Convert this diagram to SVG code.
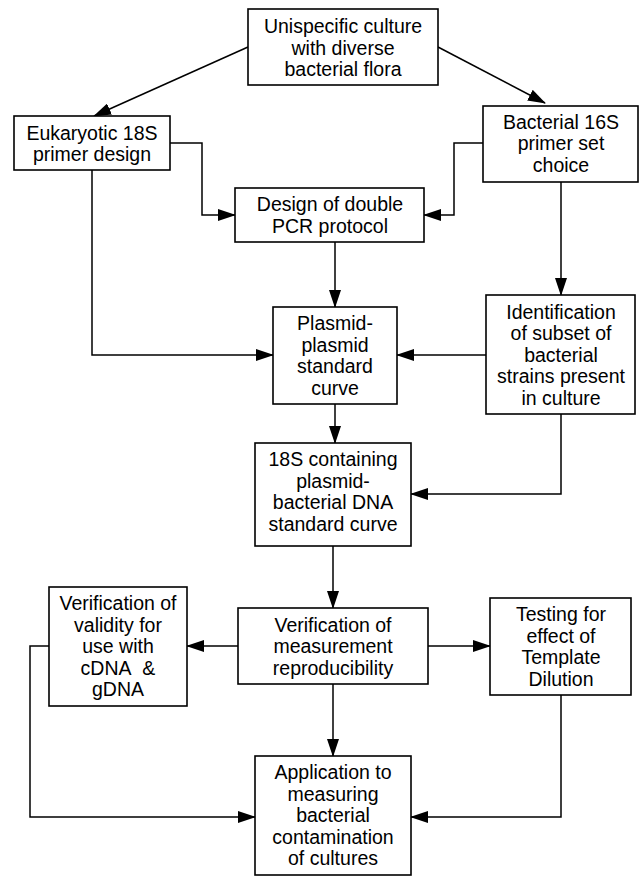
<svg xmlns="http://www.w3.org/2000/svg" width="640" height="877" viewBox="0 0 640 877">
<style>
rect{fill:#fff;stroke:#000;stroke-width:1.6}
text{font-family:"Liberation Sans",Arial,sans-serif;font-size:19.5px;text-anchor:middle;fill:#000}
.c{fill:none;stroke:#000;stroke-width:1.5}
</style>
<defs>
<marker id="ah" markerUnits="userSpaceOnUse" markerWidth="18" markerHeight="12" refX="17" refY="6" orient="auto">
<path d="M0,0 L18,6 L0,12 z" fill="#000"/>
</marker>
</defs>
<g id="connectors">
<path class="c" d="M248,47 L94,116" marker-end="url(#ah)"/>
<path class="c" d="M438,47 L545,103" marker-end="url(#ah)"/>
<path class="c" d="M170,143 H202 V215 H235" marker-end="url(#ah)"/>
<path class="c" d="M483,143 H454 V215 H424" marker-end="url(#ah)"/>
<path class="c" d="M335,242 V307" marker-end="url(#ah)"/>
<path class="c" d="M561,182 V295" marker-end="url(#ah)"/>
<path class="c" d="M92,170 V355 H273" marker-end="url(#ah)"/>
<path class="c" d="M486,355 H397" marker-end="url(#ah)"/>
<path class="c" d="M335,404 V443" marker-end="url(#ah)"/>
<path class="c" d="M561,414 V494 H411" marker-end="url(#ah)"/>
<path class="c" d="M333,546 V608" marker-end="url(#ah)"/>
<path class="c" d="M238,646 H187" marker-end="url(#ah)"/>
<path class="c" d="M428,646 H490" marker-end="url(#ah)"/>
<path class="c" d="M333,684 V756" marker-end="url(#ah)"/>
<path class="c" d="M49,646 H30 V817 H255" marker-end="url(#ah)"/>
<path class="c" d="M561,695 V817 H411" marker-end="url(#ah)"/>
</g>
<g id="n_culture">
<rect x="248" y="9" width="190" height="76"/>
<text x="343" y="33">Unispecific culture</text>
<text x="343" y="54.5">with diverse</text>
<text x="343" y="76">bacterial flora</text>
</g>
<g id="n_euk">
<rect x="14" y="116" width="156" height="54"/>
<text x="92" y="139.5">Eukaryotic 18S</text>
<text x="92" y="161">primer design</text>
</g>
<g id="n_bac">
<rect x="483" y="106" width="155" height="76"/>
<text x="561" y="128.5">Bacterial 16S</text>
<text x="561" y="150">primer set</text>
<text x="561" y="171.5">choice</text>
</g>
<g id="n_pcr">
<rect x="235" y="188" width="189" height="54"/>
<text x="330" y="211">Design of double</text>
<text x="330" y="232.5">PCR protocol</text>
</g>
<g id="n_plasmid">
<rect x="273" y="307" width="124" height="97"/>
<text x="335" y="330">Plasmid-</text>
<text x="335" y="351.5">plasmid</text>
<text x="335" y="373">standard</text>
<text x="335" y="394.5">curve</text>
</g>
<g id="n_ident">
<rect x="486" y="295" width="149" height="119"/>
<text x="561" y="318.5">Identification</text>
<text x="561" y="340">of subset of</text>
<text x="561" y="361.5">bacterial</text>
<text x="561" y="383">strains present</text>
<text x="561" y="404.5">in culture</text>
</g>
<g id="n_18s">
<rect x="255" y="443" width="156" height="103"/>
<text x="333" y="466">18S containing</text>
<text x="333" y="487.5">plasmid-</text>
<text x="333" y="509">bacterial DNA</text>
<text x="333" y="530.5">standard curve</text>
</g>
<g id="n_meas">
<rect x="238" y="608" width="190" height="76"/>
<text x="333" y="631.5">Verification of</text>
<text x="333" y="653">measurement</text>
<text x="333" y="674.5">reproducibility</text>
</g>
<g id="n_valid">
<rect x="49" y="587" width="138" height="119"/>
<text x="118" y="610">Verification of</text>
<text x="118" y="631.5">validity for</text>
<text x="118" y="653">use with</text>
<text x="118" y="674.5">cDNA&#160; &amp;</text>
<text x="118" y="696">gDNA</text>
</g>
<g id="n_test">
<rect x="490" y="598" width="141" height="97"/>
<text x="561" y="621">Testing for</text>
<text x="561" y="642.5">effect of</text>
<text x="561" y="664">Template</text>
<text x="561" y="685.5">Dilution</text>
</g>
<g id="n_app">
<rect x="255" y="756" width="156" height="119"/>
<text x="333" y="779">Application to</text>
<text x="333" y="800.5">measuring</text>
<text x="333" y="822">bacterial</text>
<text x="333" y="843.5">contamination</text>
<text x="333" y="865">of cultures</text>
</g>
</svg>
